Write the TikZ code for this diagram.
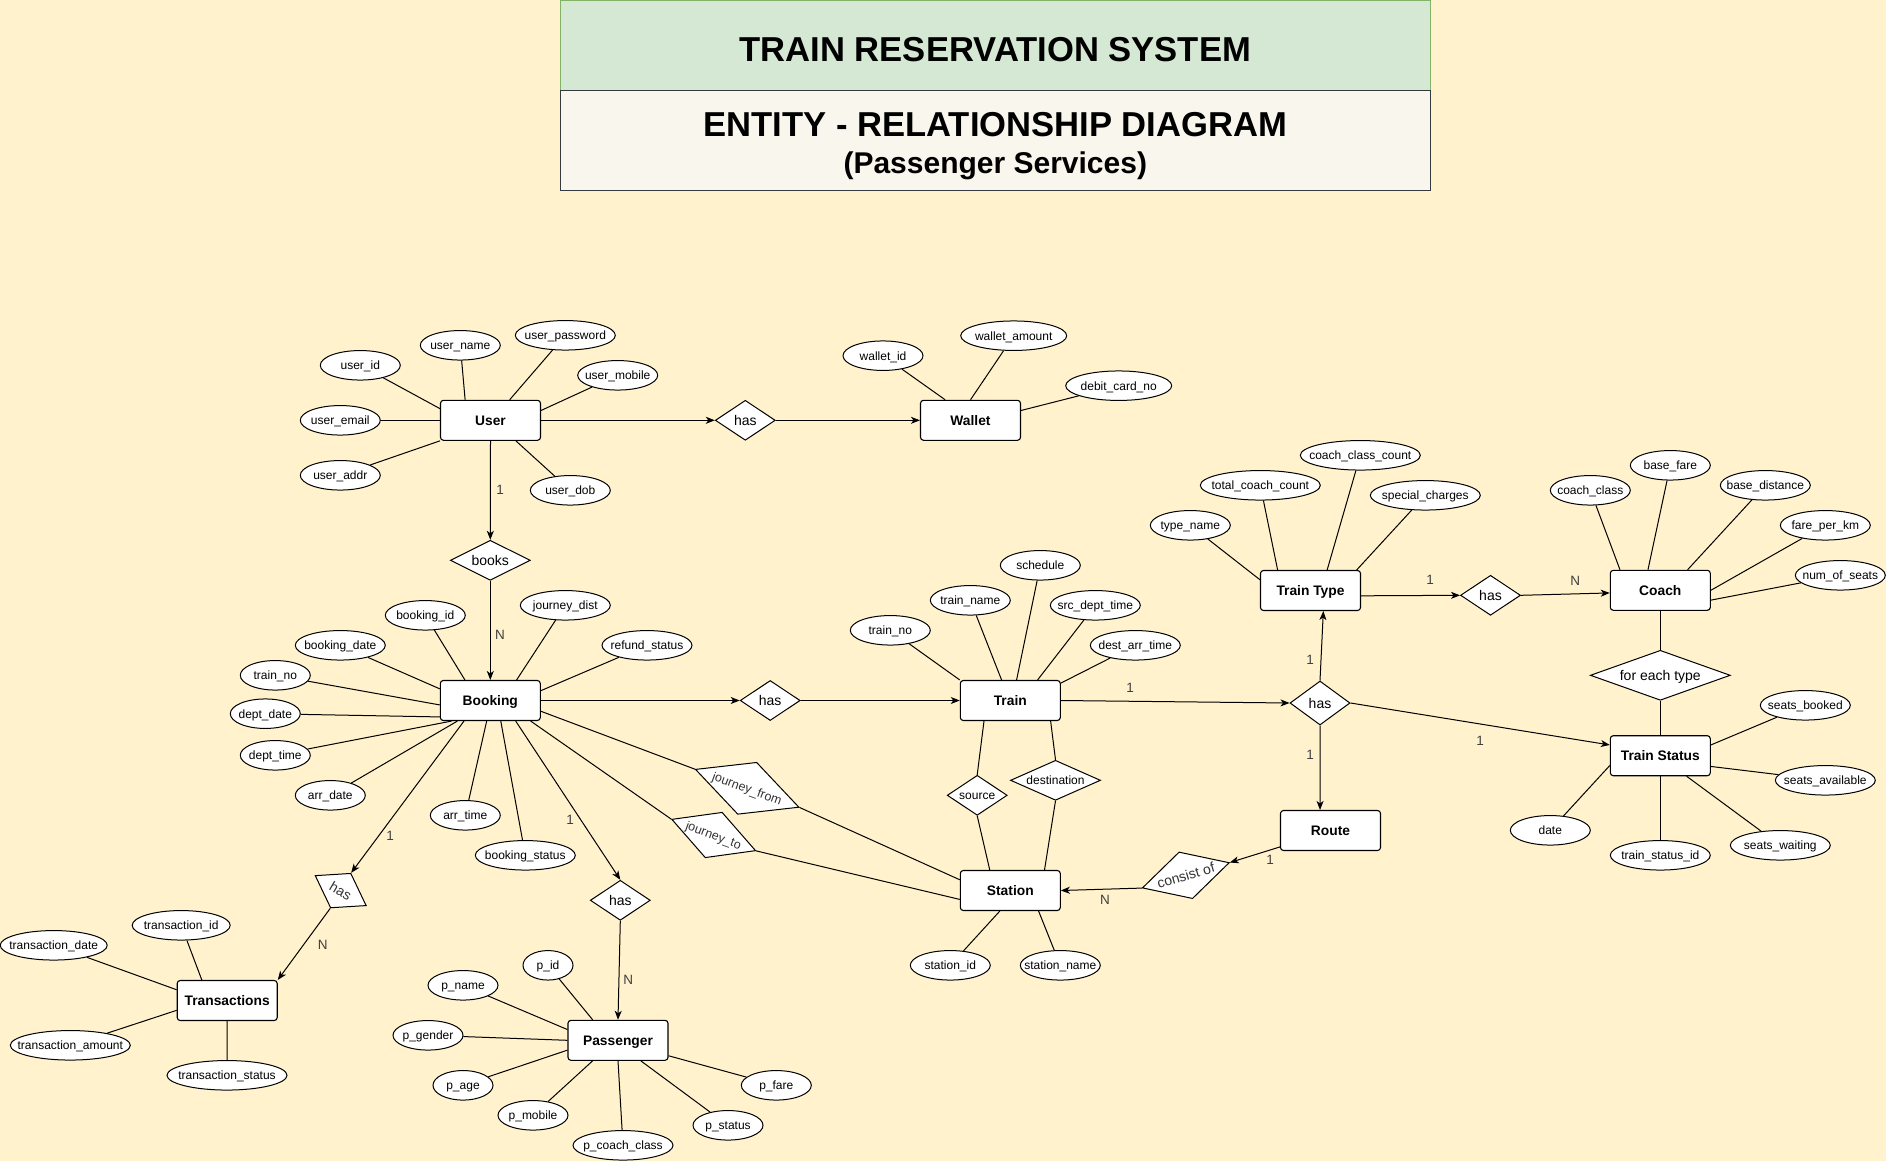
\documentclass[tikz,border=0pt]{standalone}
\usepackage{fontspec}
\setmainfont{Liberation Sans}
\usetikzlibrary{shapes.geometric,arrows.meta}
\definecolor{bgyel}{HTML}{FFF2CC}
\definecolor{ttlgreen}{HTML}{D5E8D4}
\definecolor{ttlgreenb}{HTML}{82B366}
\definecolor{ttlgray}{HTML}{F9F7ED}
\definecolor{ttlgrayb}{HTML}{36393D}
\newcommand\ztxt[1]{\makebox[0pt]{#1}}
\begin{document}
\begin{tikzpicture}[x=1pt,y=-1pt,
  ent/.style={draw, fill=white, rounded corners=3pt, minimum width=100pt, minimum height=40pt, inner sep=0pt, font=\fontsize{13.8}{16}\selectfont\bfseries, text height=9.9pt, text depth=0pt, line width=1.1pt},
  att/.style={draw, fill=white, ellipse, inner sep=0pt, minimum height=29.5pt, font=\fontsize{12}{14}\selectfont, text height=8.7pt, text depth=0pt, line width=1pt},
  rel/.style={draw, fill=white, diamond, inner sep=0pt, font=\fontsize{14}{16}\selectfont, text height=10pt, text depth=0pt, line width=1pt},
  ln/.style={line width=1pt},
  arr/.style={line width=1pt, -{Stealth[length=9pt,width=7pt,inset=2.5pt]}},
  card/.style={font=\fontsize{13.5}{16}\selectfont, text=black!75, inner sep=0pt}]
\fill[bgyel] (0,0) rectangle (1886,1161);
\useasboundingbox (0,0) rectangle (1886,1161);
% title
\node (tbox1) [draw=ttlgreenb, fill=ttlgreen, line width=1pt, minimum width=869.5pt, minimum height=90pt, inner sep=0pt] at (995.3,45.5) {};
\node (tline0) [inner sep=0pt, font=\fontsize{34.6}{40}\selectfont\bfseries] at (995.3,49.5) {TRAIN RESERVATION SYSTEM};
\node (tbox2) [draw=ttlgrayb, fill=ttlgray, line width=1pt, minimum width=869.5pt, minimum height=99.5pt, inner sep=0pt] at (995.3,140.3) {};
\node (tline1) [inner sep=0pt, font=\fontsize{34.6}{40}\selectfont\bfseries] at (995.3,124.5) {ENTITY - RELATIONSHIP DIAGRAM};
\node (tline2) [inner sep=0pt, font=\fontsize{30}{34}\selectfont\bfseries, text height=21.5pt, text depth=0pt] at (995.3,163) {(Passenger Services)};
% entities
\node (user) [ent] at (490.5,420.3) {User};
\node (wallet) [ent] at (970.5,420.3) {Wallet};
\node (booking) [ent] at (490.3,700.5) {Booking};
\node (train) [ent] at (1010.3,700.5) {Train};
\node (station) [ent] at (1010.3,890.5) {Station};
\node (traintype) [ent] at (1310.5,590.5) {Train Type};
\node (coach) [ent] at (1660.3,590.3) {Coach};
\node (trainstatus) [ent] at (1660.3,755.7) {Train Status};
\node (route) [ent] at (1330.5,830.5) {Route};
\node (trans) [ent] at (227.2,1000.5) {Transactions};
\node (passenger) [ent] at (618,1040.3) {Passenger};
% relationships
\node (hasW) [rel, minimum width=60pt, minimum height=40pt] at (745.3,420.3) {\ztxt{has}};
\node (books) [rel, minimum width=80pt, minimum height=40pt] at (490.3,560.3) {\ztxt{books}};
\node (hasT) [rel, minimum width=60pt, minimum height=40pt] at (770.2,700.5) {\ztxt{has}};
\node (hasTT) [rel, minimum width=60pt, minimum height=40pt] at (1490.5,595.3) {\ztxt{has}};
\node (hasR) [rel, minimum width=60pt, minimum height=44pt] at (1320,703) {\ztxt{has}};
\node (feach) [rel, minimum width=140pt, minimum height=50pt] at (1660.3,675.3) {\ztxt{for each type}};
\node (source) [rel, minimum width=60pt, minimum height=40pt, font=\fontsize{12}{14}\selectfont, text height=8.7pt] at (977.2,795.3) {\ztxt{source}};
\node (dest) [rel, minimum width=90pt, minimum height=40pt, font=\fontsize{12}{14}\selectfont, text height=8.7pt] at (1055.5,780.3) {\ztxt{destination}};
\node (consist) [rel, minimum width=90.6pt, minimum height=48.6pt, rotate=16.2, text=black!80] at (1185.8,875.3) {\ztxt{consist of}};
\node (jfrom) [rel, minimum width=110.4pt, minimum height=55.4pt, rotate=-20.1, text=black!80, font=\fontsize{12.5}{14}\selectfont, text height=9pt] at (747.2,788.3) {\ztxt{journey\_from}};
\node (jto) [rel, minimum width=89.7pt, minimum height=48.6pt, rotate=-20.5, text=black!80, font=\fontsize{12.5}{14}\selectfont, text height=9pt] at (713.7,835) {\ztxt{journey\_to}};
\node (hasX) [rel, minimum width=59.4pt, minimum height=40.2pt, rotate=-30.5, text=black!80] at (340.7,890.6) {\ztxt{has}};
\node (hasP) [rel, minimum width=60pt, minimum height=40pt] at (620.3,900.3) {\ztxt{has}};
% attributes
\node (uid) [att, minimum width=80pt] at (360.3,365.3) {\ztxt{user\_id}};
\node (uname) [att, minimum width=80pt] at (460.3,345.3) {\ztxt{user\_name}};
\node (upass) [att, minimum width=100pt] at (565.3,335.3) {\ztxt{user\_password}};
\node (umob) [att, minimum width=80pt] at (617.7,375.3) {\ztxt{user\_mobile}};
\node (uemail) [att, minimum width=80pt] at (340.3,420.3) {\ztxt{user\_email}};
\node (uaddr) [att, minimum width=80pt] at (340.3,475.3) {\ztxt{user\_addr}};
\node (udob) [att, minimum width=80pt] at (570.3,490.3) {\ztxt{user\_dob}};
\node (wid) [att, minimum width=80pt] at (883,355.7) {\ztxt{wallet\_id}};
\node (wamt) [att, minimum width=106pt] at (1013.7,335.7) {\ztxt{wallet\_amount}};
\node (wdebit) [att, minimum width=106pt] at (1118.7,385.7) {\ztxt{debit\_card\_no}};
\node (tname) [att, minimum width=80pt] at (1190.3,525.3) {\ztxt{type\_name}};
\node (tcc) [att, minimum width=120pt] at (1260.3,485.3) {\ztxt{total\_coach\_count}};
\node (ccc) [att, minimum width=120pt] at (1360.3,455.3) {\ztxt{coach\_class\_count}};
\node (spc) [att, minimum width=110pt] at (1425.3,495.3) {\ztxt{special\_charges}};
\node (cclass) [att, minimum width=80pt] at (1590.3,490.3) {\ztxt{coach\_class}};
\node (bfare) [att, minimum width=80pt] at (1670.3,465.3) {\ztxt{base\_fare}};
\node (bdist) [att, minimum width=90pt] at (1765.3,485.3) {\ztxt{base\_distance}};
\node (fpk) [att, minimum width=90pt] at (1825.3,525.3) {\ztxt{fare\_per\_km}};
\node (nseats) [att, minimum width=90pt] at (1840.3,575.3) {\ztxt{num\_of\_seats}};
\node (sbooked) [att, minimum width=90pt] at (1805.3,705.3) {\ztxt{seats\_booked}};
\node (savail) [att, minimum width=100pt] at (1825.3,780.3) {\ztxt{seats\_available}};
\node (swait) [att, minimum width=100pt] at (1780.3,845.3) {\ztxt{seats\_waiting}};
\node (tsid) [att, minimum width=100pt] at (1660.3,855.3) {\ztxt{train\_status\_id}};
\node (tsdate) [att, minimum width=80pt] at (1550.3,830.3) {\ztxt{date}};
\node (trno) [att, minimum width=80pt] at (890.3,630.3) {\ztxt{train\_no}};
\node (trname) [att, minimum width=80pt] at (970.3,600.3) {\ztxt{train\_name}};
\node (sched) [att, minimum width=80pt] at (1040.3,565.3) {\ztxt{schedule}};
\node (srcdt) [att, minimum width=90pt] at (1095.3,605.3) {\ztxt{src\_dept\_time}};
\node (destat) [att, minimum width=90pt] at (1135.3,645.3) {\ztxt{dest\_arr\_time}};
\node (sid) [att, minimum width=80pt] at (950.3,965.3) {\ztxt{station\_id}};
\node (sname) [att, minimum width=80pt] at (1060.3,965.3) {\ztxt{station\_name}};
\node (bid) [att, minimum width=80pt] at (425.3,615.3) {\ztxt{booking\_id}};
\node (bdate) [att, minimum width=90pt] at (340.3,645.3) {\ztxt{booking\_date}};
\node (btno) [att, minimum width=70pt] at (275.3,675.3) {\ztxt{train\_no}};
\node (ddate) [att, minimum width=70pt] at (265.3,713.7) {\ztxt{dept\_date}};
\node (dtime) [att, minimum width=70pt] at (275.3,755.3) {\ztxt{dept\_time}};
\node (adate) [att, minimum width=70pt] at (330.3,795.3) {\ztxt{arr\_date}};
\node (atime) [att, minimum width=70pt] at (465.3,815.3) {\ztxt{arr\_time}};
\node (bstatus) [att, minimum width=100pt] at (525.3,855.3) {\ztxt{booking\_status}};
\node (jdist) [att, minimum width=90pt] at (565.3,605.3) {\ztxt{journey\_dist}};
\node (refund) [att, minimum width=90pt] at (647,645.3) {\ztxt{refund\_status}};
\node (tid) [att, minimum width=98pt] at (181.2,925.3) {\ztxt{transaction\_id}};
\node (tdate) [att, minimum width=107pt] at (53.7,945.3) {\ztxt{transaction\_date}};
\node (tamt) [att, minimum width=120pt] at (70.3,1045.3) {\ztxt{transaction\_amount}};
\node (tstat) [att, minimum width=120pt] at (227,1075.3) {\ztxt{transaction\_status}};
\node (pid) [att, minimum width=50pt] at (548,965.3) {\ztxt{p\_id}};
\node (pname) [att, minimum width=70pt] at (463,985.3) {\ztxt{p\_name}};
\node (pgender) [att, minimum width=70pt] at (428,1035.3) {\ztxt{p\_gender}};
\node (page) [att, minimum width=60pt] at (463,1085.3) {\ztxt{p\_age}};
\node (pmob) [att, minimum width=70pt] at (533,1115.3) {\ztxt{p\_mobile}};
\node (pcc) [att, minimum width=100pt] at (623,1145.3) {\ztxt{p\_coach\_class}};
\node (pstat) [att, minimum width=70pt] at (728,1125.3) {\ztxt{p\_status}};
\node (pfare) [att, minimum width=70pt] at (776.3,1085.3) {\ztxt{p\_fare}};
% attribute links
\draw[ln] (uid) -- (user.167.7);
\draw[ln] (uname) -- (user.141.6);
\draw[ln] (upass) -- (user.47.7);
\draw[ln] (umob) -- (user.11.7);
\draw[ln] (uemail) -- (user.west);
\draw[ln] (uaddr) -- (user.south west);
\draw[ln] (udob) -- (user.321.1);
\draw[ln] (wid) -- (wallet.141.6);
\draw[ln] (wamt) -- (wallet.north);
\draw[ln] (wdebit) -- (wallet.11.4);
\draw[ln] (tname) -- (traintype.168.2);
\draw[ln] (tcc) -- (traintype.148.4);
\draw[ln] (ccc) -- (traintype.51.4);
\draw[ln] (spc) -- (traintype.24.5);
\draw[ln] (cclass) -- (coach.153.6);
\draw[ln] (bfare) -- (coach.121.6);
\draw[ln] (bdist) -- (coach.37.9);
\draw[ln] (fpk) -- (coach.east);
\draw[ln] (nseats) -- (coach.349.2);
\draw[ln] (sbooked) -- (trainstatus.12);
\draw[ln] (savail) -- (trainstatus.348.8);
\draw[ln] (swait) -- (trainstatus.322.1);
\draw[ln] (tsid) -- (trainstatus.south);
\draw[ln] (tsdate) -- (trainstatus.191.3);
\draw[ln] (trno) -- (train.north west);
\draw[ln] (trname) -- (train.113.5);
\draw[ln] (sched) -- (train.73.9);
\draw[ln] (srcdt) -- (train.37.9);
\draw[ln] (destat) -- (train.19.6);
\draw[ln] (sid) -- (station.243.2);
\draw[ln] (sname) -- (station.324.1);
\draw[ln] (bid) -- (booking.141.3);
\draw[ln] (bdate) -- (booking.167.4);
\draw[ln] (btno) -- (booking.185.1);
\draw[ln] (ddate) -- (booking.198);
\draw[ln] (dtime) -- (booking.208.6);
\draw[ln] (adate) -- (booking.212.3);
\draw[ln] (atime) -- (booking.260.6);
\draw[ln] (bstatus) -- (booking.297.5);
\draw[ln] (jdist) -- (booking.38.7);
\draw[ln] (refund) -- (booking.11.9);
\draw[ln] (tid) -- (trans.141.8);
\draw[ln] (tdate) -- (trans.168.1);
\draw[ln] (tamt) -- (trans.191.6);
\draw[ln] (tstat) -- (trans.south);
\draw[ln] (pid) -- (passenger.141.7);
\draw[ln] (pname) -- (passenger.168.4);
\draw[ln] (pgender) -- (passenger.west);
\draw[ln] (page) -- (passenger.191.7);
\draw[ln] (pmob) -- (passenger.219);
\draw[ln] (pcc) -- (passenger.south);
\draw[ln] (pstat) -- (passenger.318.6);
\draw[ln] (pfare) -- (passenger.343.6);
% relationship links
\draw[arr] (user.east) -- (hasW.west);
\draw[arr] (hasW.east) -- (wallet.west);
\draw[arr] (user.south) -- (books.north);
\draw[arr] (books.south) -- (booking.north);
\draw[arr] (booking.east) -- (hasT.west);
\draw[arr] (hasT.east) -- (train.west);
\draw[arr] (train.east) -- (hasR.west);
\draw[arr] (hasR.north) -- (traintype.302.9);
\draw[arr] (hasR.south) -- (route.117.9);
\draw[arr] (hasR.east) -- (trainstatus.168.7);
\draw[arr] (traintype.354) -- (hasTT.west);
\draw[arr] (hasTT.east) -- (coach.183.9);
\draw[ln] (coach.south) -- (feach.north);
\draw[ln] (feach.south) -- (trainstatus.north);
\draw[ln] (train.218.4) -- (source.north);
\draw[ln] (source.south) -- (station.135.3);
\draw[ln] (train.333.5) -- (dest.north);
\draw[ln] (dest.south) -- (station.31);
\draw[arr] (route.198.6) -- (consist.east);
\draw[arr] (consist.west) -- (station.east);
\draw[ln] (booking.348.1) -- (jfrom.west);
\draw[ln] (jfrom.east) -- (station.168.1);
\draw[ln] (booking.333.3) -- (jto.west);
\draw[ln] (jto.east) -- (station.190);
\draw[arr] (booking.218.7) -- (hasX.north);
\draw[arr] (hasX.south) -- (trans.north east);
\draw[arr] (booking.321.3) -- (hasP.north);
\draw[arr] (hasP.south) -- (passenger.north);
% cardinalities
\node (c1) [card] at (500,490) {1};
\node (c2) [card] at (500,635) {N};
\node (c3) [card] at (1430,580.3) {1};
\node (c4) [card] at (1575.3,580.7) {N};
\node (c5) [card] at (1310,660) {1};
\node (c6) [card] at (1130,688.3) {1};
\node (c7) [card] at (1310,755) {1};
\node (c8) [card] at (1480,740.7) {1};
\node (c9) [card] at (1270,860) {1};
\node (c10) [card] at (1105,900) {N};
\node (c11) [card] at (390,835.7) {1};
\node (c12) [card] at (322.7,945) {N};
\node (c13) [card] at (570,820) {1};
\node (c14) [card] at (628.3,980) {N};
\end{tikzpicture}
\end{document}
